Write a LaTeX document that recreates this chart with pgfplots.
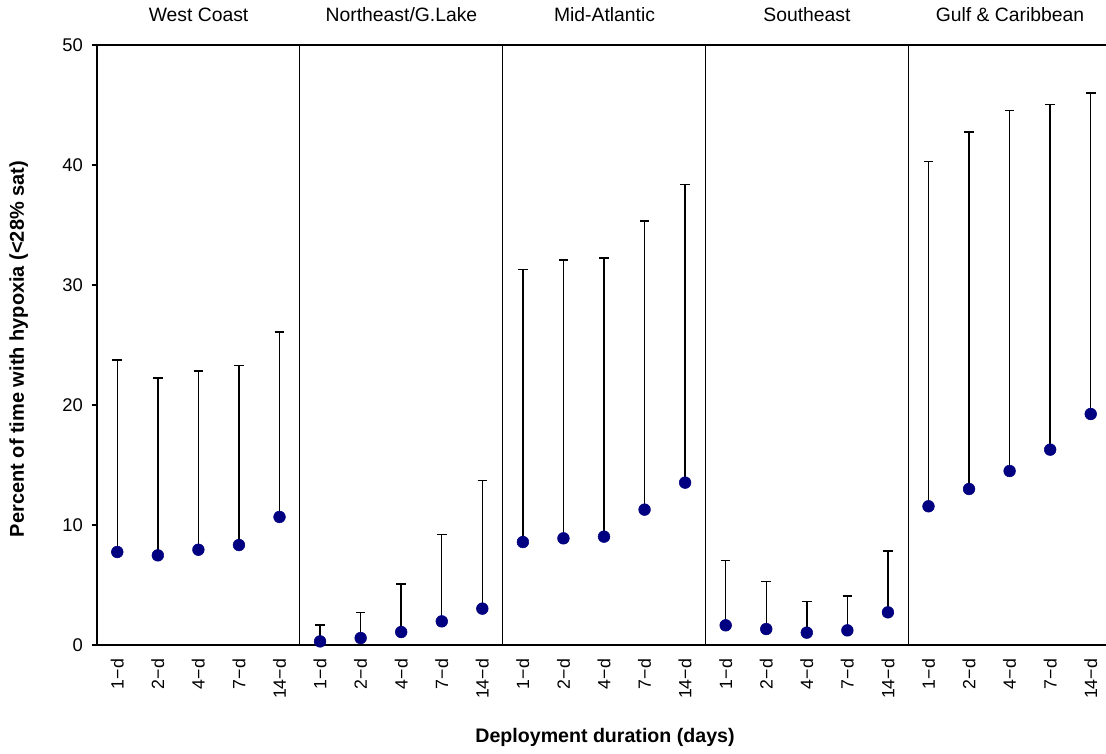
\documentclass[border=0pt]{standalone}
\usepackage{pgfplots}
\pgfplotsset{compat=1.18}
\usepackage{pgfplotstable}
\usepackage{fontspec}
\setmainfont{Liberation Sans}
\definecolor{navy}{RGB}{0,0,128}
\pgfplotstableread{
x y hi
0 7.75 23.75
1 7.47 22.25
2 7.94 22.83
3 8.33 23.28
4 10.67 26.10
5 0.30 1.67
6 0.58 2.72
7 1.08 5.08
8 1.97 9.19
9 3.03 13.72
10 8.58 31.28
11 8.89 32.10
12 9.03 32.25
13 11.28 35.33
14 13.53 38.36
15 1.64 7.06
16 1.33 5.28
17 1.03 3.61
18 1.22 4.08
19 2.72 7.83
20 11.56 40.30
21 13.00 42.75
22 14.50 44.53
23 16.28 45.03
24 19.25 46.00
}\datatable
\begin{document}
\begin{tikzpicture}[x=0.75pt,y=0.75pt]
\useasboundingbox (0pt,0pt) rectangle (829.5pt,564.75pt);
\begin{axis}[
  at={(72.75pt,81pt)}, anchor=south west,
  scale only axis, width=760.5pt, height=450pt,
  xmin=-0.5, xmax=24.5, ymin=0, ymax=50,
  axis line style={line width=0.9pt},
  ytick={0,10,20,30,40,50},
  tick align=outside,
  major tick length=4pt,
  tick style={black, line width=0.8pt},
  yticklabel style={font=\fontsize{13.8}{16}\selectfont, xshift=-3pt},
  /pgf/number format/assume math mode=true,
  xtick={0,...,24},
  xticklabels={1−d,2−d,4−d,7−d,14−d,1−d,2−d,4−d,7−d,14−d,1−d,2−d,4−d,7−d,14−d,1−d,2−d,4−d,7−d,14−d,1−d,2−d,4−d,7−d,14−d},
  xticklabel style={rotate=90, anchor=east, font=\fontsize{13.3}{15}\selectfont},
  xticklabel shift=3pt,
  x tick style={draw=none},
  extra x ticks={-0.5,4.5,9.5,14.5,19.5},
  extra x tick labels={},
  extra x tick style={grid=major, major grid style={black, line width=0.6pt}, tick style={draw=black, line width=0.8pt}},
  clip=false,
]
\addplot[only marks, mark=*, mark size=4.4pt, mark options={draw=navy, fill=navy},
  error bars/.cd, y dir=plus, y explicit,
  error bar style={black, line width=1.1pt},
  error mark options={rotate=90, mark size=3.6pt, line width=1.1pt, black}]
  table[x=x, y=y, y error expr=\thisrow{hi}-\thisrow{y}] {\datatable};
\end{axis}
\begin{scope}[every node/.style={font=\fontsize{14.5}{17}\selectfont}]
\node at (148.9pt,553.5pt) {West Coast};
\node at (301.1pt,553.5pt) {Northeast/G.Lake};
\node at (453.4pt,553.5pt) {Mid-Atlantic};
\node at (605.25pt,553.5pt) {Southeast};
\node at (757.5pt,553.5pt) {Gulf \& Caribbean};
\end{scope}
\node[rotate=90, font=\bfseries\fontsize{15}{18}\selectfont] at (14pt,303pt) {Percent of time with hypoxia (<28\% sat)};
\node[font=\bfseries\fontsize{14.7}{17}\selectfont] at (453.75pt,12pt) {Deployment duration (days)};
\end{tikzpicture}
\end{document}
